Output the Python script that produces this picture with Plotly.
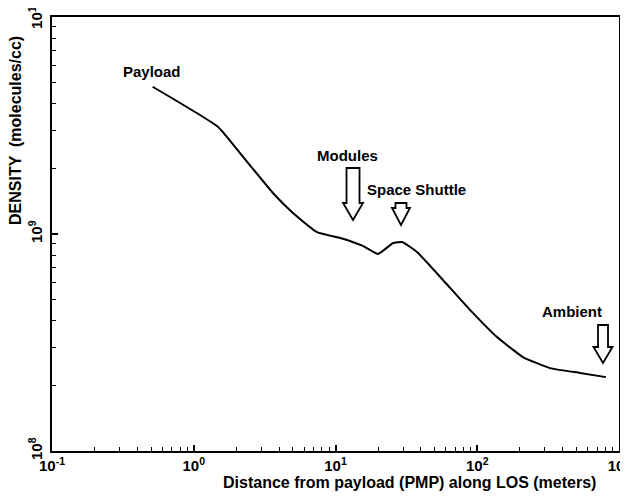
import plotly.graph_objects as go

# Data (log-log)
distance_m = [0.513, 1.48, 2.12, 3.62, 5.01, 7.40, 10.8, 12.65, 15.6, 19.95,
              25.5, 29.5, 37.6, 57.3, 88.9, 137.8, 210, 326, 531, 809]
density = [4.77e9, 3.12e9, 2.36e9, 1.545e9, 1.25e9, 1.02e9, 9.59e8, 9.29e8, 8.81e8, 8.09e8,
           9.09e8, 9.19e8, 8.26e8, 6.14e8, 4.47e8, 3.35e8, 2.71e8, 2.41e8, 2.29e8, 2.19e8]

x_tickvals = [0.1, 1, 10, 100, 1000]
x_ticktext = ["10<sup>-1</sup>", "10<sup>0</sup>", "10<sup>1</sup>", "10<sup>2</sup>", "10<sup>3</sup>"]
y_tickvals = [1e8, 1e9, 1e10]
y_ticktext = ["10<sup>8</sup>", "10<sup>9</sup>", "10<sup>10</sup>"]

labels = ["Payload", "Modules", "Space Shuttle", "Ambient"]

FONT = "Liberation Sans, Arial, sans-serif"

fig = go.Figure()
fig.add_trace(go.Scatter(x=distance_m, y=density, mode="lines",
                         line=dict(color="black", width=2, shape="spline", smoothing=0.4),
                         showlegend=False, hoverinfo="skip"))

x_minor = [k * 10 ** e for e in range(-1, 3) for k in range(2, 10)]
y_minor = [k * 10 ** e for e in range(8, 10) for k in range(2, 10)]

tick_font = dict(size=15, color="black", family=FONT, weight="bold")

fig.update_xaxes(type="log", range=[-1, 3], showgrid=False, zeroline=False,
                 automargin=False, ticklabeloverflow="allow",
                 showline=True, linecolor="black", linewidth=2, mirror=True,
                 ticks="inside", ticklen=6, tickwidth=1.5, tickcolor="black",
                 tickmode="array", tickvals=x_tickvals, ticktext=x_ticktext,
                 tickfont=tick_font, ticklabelstandoff=0,
                 minor=dict(tickmode="array", tickvals=x_minor, ticks="inside",
                            ticklen=4, tickwidth=1.2, tickcolor="black", showgrid=False))
fig.update_yaxes(type="log", range=[8, 10], showgrid=False, zeroline=False,
                 automargin=False, ticklabeloverflow="allow",
                 showline=True, linecolor="black", linewidth=2, mirror=True,
                 ticks="inside", ticklen=6, tickwidth=1.5, tickcolor="black",
                 tickmode="array", tickvals=y_tickvals, ticktext=y_ticktext,
                 tickangle=-90, ticklabelstandoff=2,
                 tickfont=tick_font,
                 minor=dict(tickmode="array", tickvals=y_minor, ticks="inside",
                            ticklen=4, tickwidth=1.2, tickcolor="black", showgrid=False))

ann_font = dict(size=15, color="black", family=FONT, weight="bold")
label_pos = [(0.1764, 0.8733), (0.5203, 0.682), (0.6437, 0.6014), (0.917, 0.3203)]
for t, (ax_, ay_) in zip(labels, label_pos):
    fig.add_annotation(text=t, x=ax_, y=ay_, xref="paper", yref="paper",
                       showarrow=False, xanchor="center", yanchor="middle", font=ann_font)

# axis titles
fig.add_annotation(text="Distance from payload (PMP) along LOS (meters)", x=0.631, y=-0.0737,
                   xref="paper", yref="paper", showarrow=False, xanchor="center",
                   yanchor="middle", font=dict(size=16, color="black", family=FONT, weight="bold"))
fig.add_annotation(text="DENSITY  (molecules/cc)", x=-0.0653, y=0.7396,
                   xref="paper", yref="paper", showarrow=False, textangle=-90,
                   xanchor="center", yanchor="middle",
                   font=dict(size=16, color="black", family=FONT, weight="bold"))

# hollow block arrows (tip anchor in paper coords, geometry in pixels)
def arrow_path(head_w, head_h, shaft_w, total_h):
    return (f"M 0,0 L {-head_w},{head_h} L {-shaft_w},{head_h} L {-shaft_w},{total_h} "
            f"L {shaft_w},{total_h} L {shaft_w},{head_h} L {head_w},{head_h} Z")

arrows = [(0.5309, 0.5323, 10, 17, 6.5, 52),
          (0.6155, 0.5207, 9, 17, 5.5, 22),
          (0.9718, 0.2028, 9.5, 16, 5, 38)]
for xa, ya, hw, hh, sw, th in arrows:
    fig.add_shape(type="path", xref="paper", yref="paper", xsizemode="pixel",
                  ysizemode="pixel", xanchor=xa, yanchor=ya,
                  path=arrow_path(hw, hh, sw, th),
                  line=dict(color="black", width=1.8), fillcolor="white")

# page body adds an 8px margin, so the figure is 8px smaller on each side
fig.update_layout(width=620, height=489, autosize=False,
                  margin=dict(l=44, r=9, t=9, b=46),
                  paper_bgcolor="white", plot_bgcolor="white",
                  font=dict(family=FONT, color="black"))

fig.write_html("out.html")
